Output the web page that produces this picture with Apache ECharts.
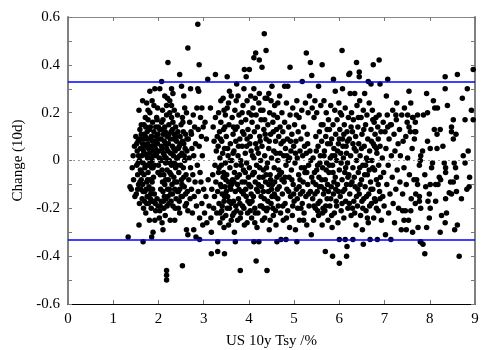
<!DOCTYPE html>
<html>
<head>
<meta charset="utf-8">
<script src="https://cdn.jsdelivr.net/npm/echarts@6/dist/echarts.min.js"></script>
<style>
  html, body { margin: 0; padding: 0; background: #fff; }
  #chart { width: 500px; height: 350px; }
</style>
</head>
<body>
<div id="chart"></div>
<script>
// axis ranges and the +/- band
const xRange = [0, 9]
const yRange = [-0.6, 0.6]
const bandLimit = 0.333

// points, grouped by yield band [yield %, change]
const band13to17 = [
  [1.33,-0.32],[1.37,-0.11],[1.40,-0.12],[1.42,-0.03],[1.44,0.02],[1.45,-0.08],[1.47,0.06],[1.48,-0.15],
  [1.50,0.10],[1.51,-0.14],[1.52,-0.02],[1.53,0.04],[1.54,-0.06],[1.55,0.08],[1.56,-0.10],[1.57,0.21],
  [1.57,-0.27],[1.58,0.00],[1.58,-0.18],[1.59,0.13],[1.60,-0.04],[1.60,0.05],[1.61,-0.12],[1.62,0.11],
  [1.62,-0.08],[1.63,0.02],[1.64,-0.16],[1.65,0.25],[1.65,0.07],[1.66,-0.34],[1.66,-0.01],[1.67,-0.20],
  [1.68,0.15],[1.68,-0.06],[1.69,0.03],[1.70,-0.13],[1.70,0.09],
  [1.52,0.07],[1.54,-0.12],[1.56,0.02],[1.61,0.09],[1.63,-0.05],[1.65,-0.10],[1.67,0.04],[1.69,-0.17],
  [1.55,-0.01],[1.58,0.09],[1.59,-0.09],[1.62,0.15],[1.64,0.05],[1.66,-0.13],[1.68,0.11]
]
const band17to22 = [
  [1.71,0.18],[1.72,-0.02],[1.72,-0.22],[1.73,0.06],[1.74,-0.09],[1.75,0.12],[1.75,-0.15],[1.76,0.01],
  [1.77,0.17],[1.77,0.21],[1.77,-0.05],[1.78,-0.18],[1.79,0.09],[1.79,-0.11],[1.80,0.03],[1.80,-0.25],
  [1.81,0.20],[1.81,0.29],[1.81,-0.01],[1.82,0.14],[1.82,-0.08],[1.83,-0.14],[1.84,0.06],[1.84,-0.20],
  [1.85,0.10],[1.85,-0.32],[1.85,-0.03],[1.86,0.00],[1.87,-0.12],[1.87,0.16],[1.88,0.04],[1.88,-0.30],
  [1.89,-0.07],[1.89,-0.17],[1.90,0.12],[1.90,0.23],[1.91,-0.02],[1.92,0.30],[1.92,0.08],[1.92,-0.25],
  [1.94,0.14],[1.94,-0.21],[1.95,0.02],[1.96,0.18],[1.97,0.17],[1.97,-0.16],[1.98,0.07],[1.99,-0.19],
  [1.99,0.11],[2.00,-0.02],[2.01,0.04],[2.02,-0.24],[2.03,0.30],[2.03,-0.21],[2.03,0.13],[2.04,-0.06],
  [2.05,0.00],[2.06,0.09],[2.06,-0.17],[2.07,0.33],[2.07,0.16],[2.08,-0.04],[2.08,-0.26],[2.09,0.05],
  [2.10,0.17],[2.10,-0.29],[2.10,-0.13],[2.11,0.11],[2.12,-0.06],[2.12,-0.20],[2.13,0.02],[2.14,0.27],
  [2.14,0.14],[2.14,-0.10],[2.15,-0.23],[2.16,0.07],[2.16,-0.01],[2.17,-0.16],[2.18,0.23],[2.18,0.19],
  [2.18,-0.46],[2.18,-0.48],[2.18,-0.50],[2.19,-0.04],[2.19,0.10],[2.20,-0.12],
  [1.71,0.10],[1.73,-0.12],[1.74,0.02],[1.76,-0.08],[1.78,0.05],[1.80,0.13],[1.82,-0.16],[1.83,0.01],
  [1.86,-0.09],[1.87,0.08],[1.89,0.02],[1.91,-0.14],[1.93,0.05],[1.95,0.10],[2.00,0.14],[2.02,0.01],
  [2.05,-0.12],[2.07,0.06],[2.09,-0.09],[2.11,0.03],[2.13,-0.15],[2.15,0.12],[2.17,0.01],[2.19,-0.19],
  [1.70,-0.03],[1.72,0.14],[1.74,-0.18],[1.76,0.07],[1.78,-0.02],[1.79,0.13],[1.81,-0.12],[1.84,0.10],
  [1.85,-0.17],[1.88,-0.03],[1.90,0.06],[1.93,-0.18],[1.96,0.03],[1.99,-0.05],[2.01,0.09],[2.04,-0.19],
  [2.06,0.13],[2.08,0.00],[2.11,-0.17],[2.13,0.08],[2.16,-0.08],[2.18,0.05],
  [1.74,0.24],[1.86,0.25],[1.98,0.22],[2.09,0.21]
]
const band22to265 = [
  [2.21,0.41],[2.21,0.04],[2.22,-0.08],[2.23,0.15],[2.23,-0.18],[2.24,0.00],[2.25,0.25],[2.25,0.20],
  [2.25,-0.05],[2.26,0.09],[2.26,-0.25],[2.27,-0.14],[2.28,0.12],[2.29,0.30],[2.29,0.23],[2.29,0.18],
  [2.29,-0.02],[2.30,-0.10],[2.31,0.06],[2.32,0.28],[2.32,0.16],[2.32,-0.19],[2.33,0.02],[2.34,-0.07],
  [2.35,0.11],[2.36,-0.25],[2.36,-0.12],[2.37,0.04],[2.38,0.14],[2.38,-0.03],[2.39,-0.16],[2.40,0.08],
  [2.41,-0.09],[2.42,0.01],[2.43,0.12],[2.44,-0.20],[2.45,-0.05],[2.46,0.06],[2.47,0.36],[2.47,-0.22],
  [2.47,-0.12],[2.48,0.10],[2.49,-0.02],[2.50,0.15],[2.51,0.31],[2.51,-0.08],[2.52,0.03],[2.53,0.18],
  [2.53,-0.44],[2.53,-0.15],[2.54,0.16],[2.55,-0.03],[2.56,0.07],[2.57,-0.11],[2.58,0.22],[2.58,0.00],
  [2.59,-0.19],[2.60,0.11],[2.61,-0.06],[2.62,0.20],[2.62,-0.18],[2.62,-0.29],[2.63,0.04],[2.64,-0.13],
  [2.65,0.47],[2.65,-0.21],[2.65,-0.31],
  [2.22,0.07],[2.24,-0.12],[2.27,0.03],[2.28,-0.06],[2.31,-0.14],[2.33,0.09],[2.35,-0.01],[2.37,-0.20],
  [2.40,0.01],[2.42,-0.13],[2.44,0.05],[2.46,-0.17],[2.49,0.07],[2.52,-0.10],[2.55,0.12],[2.57,0.02],
  [2.60,-0.14],[2.63,0.09],
  [2.21,-0.15],[2.23,0.11],[2.26,-0.01],[2.28,-0.17],[2.31,0.13],[2.34,0.05],[2.36,-0.09],[2.39,0.10],
  [2.41,-0.02],[2.44,-0.13],[2.47,0.02],[2.50,-0.15],[2.53,0.08],[2.56,-0.07],[2.59,0.05],
  [2.20,0.26],[2.35,0.21],[2.42,0.19],[2.56,0.27]
]
const band265to33 = [
  [2.66,0.09],[2.67,-0.08],[2.68,0.01],[2.69,0.16],[2.70,-0.16],[2.71,0.30],[2.71,-0.03],[2.72,0.12],
  [2.73,0.11],[2.73,-0.12],[2.74,0.05],[2.75,-0.22],[2.76,-0.06],[2.77,0.19],[2.78,-0.29],[2.78,0.02],
  [2.79,-0.15],[2.80,0.14],[2.81,-0.09],[2.82,0.07],[2.83,-0.32],[2.84,-0.19],[2.85,0.22],[2.86,-0.02],
  [2.87,0.30],[2.87,0.57],[2.88,0.13],[2.88,-0.13],[2.89,0.29],[2.90,0.40],[2.90,0.06],[2.91,-0.33],
  [2.91,-0.24],[2.92,-0.05],[2.93,0.18],[2.94,-0.09],[2.95,0.10],[2.96,0.22],[2.96,-0.18],[2.97,0.02],
  [2.98,-0.27],[2.99,0.14],[3.00,-0.12],[3.02,-0.22],[3.03,0.16],[3.05,-0.15],
  [3.06,0.09],[3.07,-0.26],[3.09,0.34],[3.10,-0.08],[3.12,-0.19],
  [3.15,0.22],[3.16,-0.24],[3.17,-0.30],[3.17,-0.39],[3.18,-0.12],[3.20,-0.06],[3.21,0.14],
  [3.22,-0.20],[3.23,0.08],[3.24,-0.15],[3.25,-0.02],[3.26,0.36],[3.26,0.18],[3.27,-0.09],[3.28,0.04],
  [3.29,-0.22],[3.30,0.10]
]
const band33to40 = [
  [3.31,-0.34],[3.31,-0.38],[3.31,-0.13],[3.32,0.06],[3.33,0.20],[3.33,-0.05],[3.34,-0.18],[3.35,0.12],
  [3.36,0.01],[3.36,-0.26],[3.37,-0.10],[3.38,0.16],[3.38,0.25],[3.39,-0.02],[3.40,-0.21],[3.40,0.08],
  [3.41,-0.14],[3.42,0.03],[3.43,0.26],[3.43,-0.07],[3.44,0.13],[3.45,-0.17],[3.45,-0.28],[3.46,-0.39],
  [3.46,0.05],[3.47,-0.11],[3.48,0.19],[3.48,-0.01],[3.49,-0.23],[3.50,0.10],[3.51,-0.06],[3.52,0.35],
  [3.52,0.22],[3.53,-0.15],[3.54,0.02],[3.55,-0.09],[3.56,0.15],[3.57,0.29],[3.57,-0.20],[3.58,-0.03],
  [3.59,0.07],[3.60,-0.12],[3.61,0.27],[3.61,-0.25],[3.62,0.00],[3.63,0.18],[3.64,-0.08],[3.65,0.11],
  [3.66,-0.17],[3.67,0.04],[3.68,-0.30],[3.68,-0.05],[3.69,0.21],[3.70,-0.34],[3.70,-0.13],[3.71,0.08],
  [3.72,0.25],[3.72,-0.02],[3.73,0.32],[3.73,-0.21],[3.74,0.14],[3.75,-0.10],[3.76,0.02],[3.77,-0.16],
  [3.78,0.19],[3.79,-0.06],[3.80,0.09],[3.81,-0.46],[3.81,-0.24],[3.82,0.00],[3.83,0.16],[3.84,-0.13],
  [3.85,0.06],[3.86,-0.19],[3.87,0.23],[3.88,-0.04],[3.89,0.30],[3.89,0.11],[3.90,0.38],[3.90,-0.27],
  [3.91,-0.09],[3.92,0.03],[3.93,0.17],[3.94,0.35],[3.94,-0.15],[3.95,-0.01],[3.96,0.09],[3.97,-0.22],
  [3.98,0.13],[3.99,-0.07],[4.00,0.20],
  [3.34,-0.03],[3.37,0.09],[3.41,-0.19],[3.44,-0.05],[3.47,0.14],[3.50,-0.13],[3.53,0.05],[3.56,-0.17],
  [3.59,0.00],[3.62,-0.10],[3.65,0.03],[3.67,-0.22],[3.70,0.13],[3.74,-0.07],[3.77,0.06],[3.80,-0.18],
  [3.83,-0.02],[3.86,0.12],[3.88,-0.14],[3.92,-0.05],[3.95,0.06],[3.98,-0.17],
  [3.36,-0.22],[3.39,-0.11],[3.42,-0.24],[3.46,-0.15],[3.49,-0.08],[3.52,-0.20],[3.55,-0.27],[3.58,-0.11],
  [3.61,-0.18],[3.64,-0.23],[3.67,-0.09],[3.71,-0.19],[3.75,-0.25],[3.78,-0.12],[3.82,-0.22],[3.85,-0.09],
  [3.89,-0.20],[3.93,-0.12],[3.96,-0.26],
  [3.45,0.21],[3.55,0.24],[3.66,0.14],[3.76,0.27],[3.85,0.20],[3.96,0.25]
]
const band40to47 = [
  [4.01,0.38],[4.01,-0.03],[4.02,-0.18],[4.03,0.10],[4.04,0.27],[4.04,-0.11],[4.05,0.04],[4.06,-0.24],
  [4.07,0.16],[4.08,-0.06],[4.09,0.22],[4.10,-0.15],[4.11,0.43],[4.11,0.30],[4.11,-0.34],[4.11,0.01],
  [4.12,0.12],[4.13,-0.20],[4.14,-0.09],[4.15,0.45],[4.15,0.07],[4.16,-0.42],[4.16,0.19],[4.17,-0.02],
  [4.18,-0.28],[4.19,0.14],[4.20,-0.13],[4.21,0.03],[4.22,-0.34],[4.22,0.24],[4.23,0.42],[4.23,0.28],
  [4.23,-0.07],[4.24,0.10],[4.25,-0.19],[4.26,0.00],[4.27,0.17],[4.28,-0.11],[4.29,0.39],[4.29,0.06],
  [4.30,-0.25],[4.31,0.21],[4.32,-0.04],[4.33,0.13],[4.34,0.53],[4.34,-0.16],[4.35,0.02],[4.36,0.26],
  [4.37,-0.09],[4.38,0.46],[4.38,0.09],[4.39,-0.21],[4.40,0.26],[4.40,-0.46],[4.41,-0.01],[4.42,0.15],
  [4.43,-0.13],[4.44,0.05],[4.45,-0.29],[4.46,0.20],[4.47,-0.06],[4.48,0.11],[4.49,0.25],[4.49,-0.18],
  [4.50,0.01],[4.51,0.31],[4.52,-0.10],[4.53,0.16],[4.54,-0.23],[4.55,0.04],[4.56,-0.03],[4.57,0.23],
  [4.58,-0.15],[4.59,0.08],[4.60,-0.27],[4.61,0.13],[4.62,-0.34],[4.62,-0.07],[4.63,0.18],[4.64,0.00],
  [4.65,-0.19],[4.66,0.10],[4.67,-0.11],[4.68,0.27],[4.69,0.03],[4.70,-0.22],
  [4.02,0.07],[4.05,-0.14],[4.08,0.02],[4.12,-0.05],[4.14,-0.22],[4.18,0.05],[4.21,-0.10],[4.25,0.08],
  [4.27,-0.15],[4.31,-0.07],[4.33,-0.20],[4.36,0.11],[4.39,-0.03],[4.42,-0.17],[4.45,0.08],[4.48,-0.08],
  [4.51,-0.15],[4.54,0.12],[4.57,-0.09],[4.60,0.03],[4.63,-0.12],[4.66,-0.04],[4.69,0.14],
  [4.00,-0.10],[4.03,-0.21],[4.07,-0.17],[4.10,-0.05],[4.13,-0.26],[4.17,-0.12],[4.20,-0.22],[4.24,-0.03],
  [4.28,-0.19],[4.32,-0.13],[4.35,-0.24],[4.38,-0.06],[4.41,-0.20],[4.44,-0.10],[4.47,-0.25],[4.50,-0.12],
  [4.53,-0.20],[4.56,-0.14],[4.59,-0.21],[4.64,-0.16],[4.68,-0.06],
  [4.06,0.19],[4.14,0.26],[4.26,0.21],[4.35,0.17],[4.44,0.28],[4.55,0.19],[4.64,0.24]
]
const band47to54 = [
  [4.71,-0.33],[4.71,0.07],[4.72,-0.05],[4.73,0.20],[4.74,-0.14],[4.75,0.12],[4.76,-0.25],[4.77,0.02],
  [4.78,-0.09],[4.79,0.31],[4.79,0.16],[4.80,-0.18],[4.81,0.05],[4.82,-0.33],[4.82,-0.02],[4.83,0.24],
  [4.84,-0.12],[4.85,0.09],[4.86,0.31],[4.86,-0.21],[4.87,0.00],[4.88,0.14],[4.89,-0.07],[4.90,-0.28],
  [4.91,0.39],[4.91,0.19],[4.92,-0.15],[4.93,0.04],[4.94,-0.04],[4.95,0.11],[4.96,-0.23],[4.97,0.22],
  [4.98,-0.10],[4.99,0.06],[5.00,-0.17],[5.01,0.15],[5.02,-0.01],[5.03,-0.29],[5.04,0.08],[5.05,-0.12],
  [5.06,-0.34],[5.06,0.25],[5.07,0.01],[5.08,-0.20],[5.09,0.12],[5.10,-0.06],[5.11,0.18],[5.12,-0.25],
  [5.13,0.04],[5.14,-0.14],[5.15,0.09],[5.16,-0.03],[5.17,0.21],[5.18,0.33],[5.18,-0.18],[5.19,0.02],
  [5.20,-0.09],[5.21,0.14],[5.22,-0.22],[5.23,0.06],[5.24,-0.05],[5.25,0.24],[5.26,-0.15],[5.27,0.45],
  [5.27,0.03],[5.28,-0.27],[5.29,0.11],[5.30,-0.10],[5.31,0.20],[5.32,-0.02],[5.33,-0.19],[5.34,0.27],
  [5.35,0.04],[5.36,0.41],[5.36,-0.13],[5.37,0.00],[5.38,-0.31],[5.39,0.355],[5.39,-0.07],[5.40,0.22],
  [4.73,-0.08],[4.76,0.08],[4.80,-0.07],[4.84,0.02],[4.88,-0.13],[4.92,0.08],[4.95,-0.08],[4.99,-0.14],
  [5.03,0.03],[5.07,-0.16],[5.11,-0.11],[5.15,-0.20],[5.19,-0.13],[5.23,-0.03],[5.28,-0.05],[5.32,-0.14],
  [4.75,-0.19],[4.83,-0.24],[4.90,0.01],[4.97,-0.19],[5.05,0.19],[5.13,-0.08],[5.21,-0.25],[5.30,0.07]
]
const band54to62 = [
  [5.41,-0.16],[5.42,0.01],[5.43,-0.25],[5.44,0.18],[5.45,-0.05],[5.46,0.25],[5.47,-0.20],[5.48,-0.10],
  [5.49,0.04],[5.50,0.20],[5.51,-0.13],[5.52,-0.02],[5.53,0.06],[5.54,0.31],[5.54,-0.23],[5.55,-0.07],
  [5.56,0.12],[5.57,-0.17],[5.58,0.02],[5.59,0.23],[5.60,-0.11],[5.61,0.08],[5.62,0.40],[5.62,-0.27],
  [5.63,-0.03],[5.64,0.15],[5.65,-0.14],[5.66,0.25],[5.67,0.04],[5.68,-0.21],[5.69,-0.38],[5.69,-0.08],
  [5.70,0.10],[5.71,0.20],[5.72,-0.01],[5.73,-0.16],[5.74,0.07],[5.75,-0.25],[5.76,0.17],[5.77,-0.05],
  [5.78,0.13],[5.79,-0.19],[5.80,0.01],[5.81,0.23],[5.82,-0.11],[5.83,0.09],[5.84,-0.28],[5.85,-0.40],
  [5.85,-0.02],[5.86,0.15],[5.87,0.34],[5.87,-0.14],[5.88,0.05],[5.89,-0.22],[5.90,0.21],[5.91,0.29],
  [5.91,-0.07],[5.92,0.11],[5.93,-0.17],[5.94,0.00],[5.95,0.17],[5.96,-0.10],[5.97,-0.26],[5.98,0.07],
  [5.99,0.24],[6.00,-0.43],[6.00,-0.33],[6.00,-0.04],[6.01,0.13],[6.02,-0.15],[6.03,0.03],[6.04,-0.21],
  [6.05,0.19],[6.06,0.46],[6.06,-0.08],[6.07,0.30],[6.07,0.09],[6.08,-0.13],[6.09,0.01],[6.10,-0.24],
  [6.11,0.15],[6.12,-0.05],[6.13,-0.33],[6.13,0.22],[6.14,-0.17],[6.15,0.06],[6.16,-0.40],[6.16,-0.10],
  [6.17,-0.36],[6.17,0.12],[6.18,-0.01],[6.19,-0.20],[6.20,0.18],
  [5.42,-0.09],[5.46,-0.14],[5.50,-0.04],[5.53,-0.18],[5.57,-0.01],[5.61,-0.08],[5.64,-0.20],[5.67,-0.12],
  [5.71,-0.04],[5.74,-0.10],[5.78,-0.02],[5.81,-0.16],[5.84,0.02],[5.88,-0.09],[5.92,-0.12],[5.96,0.04],
  [6.00,0.09],[6.04,-0.01],[6.08,0.06],[6.12,-0.12],[6.16,0.03],[6.19,-0.07],
  [5.44,-0.19],[5.48,0.10],[5.52,-0.21],[5.56,-0.11],[5.60,0.15],[5.63,-0.22],[5.66,0.02],[5.70,-0.19],
  [5.73,0.13],[5.76,-0.13],[5.80,0.07],[5.83,-0.23],[5.86,-0.05],[5.90,0.02],[5.94,-0.19],[5.98,-0.13],
  [6.02,0.20],[6.06,-0.18],[6.10,0.11],[6.14,-0.03],[6.18,0.08]
]
const band62to70 = [
  [6.21,0.36],[6.21,-0.06],[6.22,0.09],[6.23,0.365],[6.23,-0.14],[6.24,0.28],[6.25,0.02],[6.26,-0.23],
  [6.27,0.20],[6.28,-0.09],[6.29,0.12],[6.30,-0.33],[6.30,-0.03],[6.31,0.17],[6.32,-0.17],[6.33,0.05],
  [6.34,0.28],[6.35,-0.11],[6.36,0.10],[6.37,-0.27],[6.38,0.41],[6.38,0.00],[6.39,0.23],[6.40,-0.19],
  [6.41,0.14],[6.42,-0.05],[6.43,0.07],[6.44,0.37],[6.44,0.35],[6.44,-0.14],[6.45,0.25],[6.46,0.02],
  [6.47,-0.23],[6.48,0.18],[6.49,-0.08],[6.50,0.11],[6.51,-0.29],[6.52,-0.02],[6.53,-0.35],[6.53,0.21],
  [6.54,-0.16],[6.55,0.06],[6.56,0.28],[6.57,-0.11],[6.58,0.15],[6.59,-0.21],[6.60,0.01],[6.61,0.19],
  [6.62,-0.06],[6.63,0.09],[6.64,0.33],[6.64,-0.26],[6.65,-0.14],[6.66,0.24],[6.67,0.04],[6.68,-0.33],
  [6.69,-0.09],[6.70,0.32],[6.70,0.13],[6.71,-0.18],[6.72,0.00],[6.73,0.21],[6.74,-0.12],[6.75,0.40],
  [6.75,0.07],[6.76,-0.24],[6.77,0.16],[6.78,-0.04],[6.79,0.11],[6.80,-0.17],[6.81,0.18],[6.82,-0.08],
  [6.83,0.03],[6.84,-0.33],[6.85,0.14],[6.86,-0.21],[6.87,-0.02],[6.88,0.42],[6.88,0.19],[6.89,-0.13],
  [6.90,0.32],[6.90,0.06],[6.91,-0.07],[6.92,0.12],[6.93,-0.25],[6.95,0.01],[6.96,-0.15],[6.97,0.16],
  [6.98,-0.05],[6.99,-0.19],
  [6.25,-0.10],[6.29,-0.20],[6.33,-0.07],[6.37,0.04],[6.41,-0.12],[6.45,-0.03],[6.49,0.05],[6.52,-0.20],
  [6.56,-0.06],[6.60,-0.15],[6.63,0.00],[6.67,-0.19],[6.71,0.08],[6.74,-0.03],[6.78,-0.16],[6.82,0.05],
  [6.86,-0.10],
  [6.22,-0.18],[6.26,0.14],[6.30,0.07],[6.34,-0.22],[6.38,-0.15],[6.42,0.18],[6.46,-0.10],[6.50,-0.17],
  [6.54,0.13],[6.58,-0.02],[6.62,-0.24],[6.66,-0.04],[6.70,-0.12],[6.74,0.17],[6.78,0.06],[6.82,-0.20],
  [6.86,0.09],[6.90,-0.16]
]
const band70to77 = [
  [7.01,0.12],[7.02,-0.31],[7.03,0.05],[7.04,0.27],[7.05,-0.10],[7.06,0.19],[7.07,0.34],[7.08,-0.02],
  [7.09,-0.22],[7.10,0.09],[7.12,-0.14],[7.13,0.15],[7.14,-0.33],[7.15,0.02],[7.17,-0.07],[7.18,0.21],
  [7.19,-0.18],[7.21,0.11],[7.22,-0.26],[7.23,0.04],[7.25,-0.12],[7.26,0.17],[7.27,0.24],[7.28,-0.04],
  [7.30,0.07],[7.31,-0.20],[7.33,0.13],[7.34,-0.09],[7.35,0.02],[7.37,-0.29],[7.38,0.19],[7.40,-0.14],
  [7.41,0.08],[7.43,-0.03],[7.44,0.22],[7.46,-0.21],[7.47,0.10],[7.48,-0.10],[7.50,0.16],[7.51,0.01],
  [7.53,-0.25],[7.54,0.29],[7.55,-0.06],[7.57,0.12],[7.58,0.24],[7.59,-0.16],[7.61,0.05],[7.62,-0.30],
  [7.63,0.18],[7.65,-0.08],[7.66,0.09],[7.68,0.16],[7.68,-0.18],[7.69,0.12],[7.69,-0.14],
  [7.43,-0.25],[7.48,-0.29],[7.58,-0.21],[7.40,-0.21],[7.25,0.19],[7.51,0.19],[7.62,0.18],[7.54,0.14],
  [7.67,0.12],[7.07,0.14],[7.15,0.15]
]
const band77to90 = [
  [7.73,0.19],[7.86,0.19],[7.95,0.20],[7.93,0.28],[8.08,0.25],[8.11,0.22],[8.17,0.22],[8.34,0.35],
  [8.61,0.36],[8.96,0.38],[8.34,0.30],[8.83,0.30],[8.72,0.26],[8.39,0.23],[8.92,0.21],[8.52,0.17],
  [8.78,0.17],[8.96,0.17],[8.10,0.13],[8.16,0.11],[8.23,0.13],[8.48,0.14],[8.48,0.12],[8.58,0.11],
  [8.52,0.09],[8.29,0.06],[8.16,0.05],[8.01,0.05],[7.95,0.08],[7.84,0.04],[7.80,0.02],[7.79,0.00],
  [7.77,-0.02],[8.85,0.04],[8.74,0.02],[8.54,-0.01],[8.57,-0.03],[8.32,-0.01],[8.35,-0.03],[8.35,-0.05],
  [8.06,-0.01],[8.04,-0.03],[8.78,-0.01],[7.89,-0.06],[8.21,-0.07],[8.24,-0.08],[8.59,-0.07],[8.88,-0.07],
  [7.71,-0.08],[7.73,-0.10],[7.91,-0.11],[8.01,-0.10],[8.13,-0.10],[8.18,-0.10],[8.46,-0.09],[8.52,-0.09],
  [8.82,-0.12],[8.87,-0.11],[7.77,-0.15],[7.99,-0.14],[8.43,-0.135],[8.48,-0.14],[8.59,-0.13],[8.35,-0.16],
  [8.70,-0.16],[7.77,-0.17],[7.96,-0.17],[8.13,-0.17],[7.80,-0.20],[8.01,-0.20],[7.99,-0.24],[8.26,-0.23],
  [8.37,-0.22],[7.74,-0.28],[7.93,-0.28],[8.34,-0.26],[8.23,-0.30],[8.55,-0.29],[8.61,-0.27],[7.79,-0.34],
  [7.89,-0.39],[8.65,-0.40],[7.80,-0.34],[7.85,-0.35]
]

const points = [].concat(band13to17, band17to22, band22to265, band265to33, band33to40,
  band40to47, band47to54, band54to62, band62to70, band70to77, band77to90)

const serif = '"Liberation Serif", "DejaVu Serif", serif'

const chart = echarts.init(document.getElementById('chart'))
chart.setOption({
  animation: false,
  grid: { left: 68, right: 25, top: 17, bottom: 46, outerBoundsMode: 'none' },
  xAxis: [
    {
      type: 'value', min: xRange[0], max: xRange[1], interval: 1, position: 'bottom',
      name: 'US 10y Tsy /%', nameLocation: 'middle', nameGap: 30,
      nameTextStyle: { fontFamily: serif, fontSize: 15, color: '#000' },
      axisLine: { show: true, onZero: false, lineStyle: { color: '#000', width: 1 } },
      axisTick: { show: true, inside: true, length: 4, lineStyle: { color: '#777' } },
      axisLabel: { fontFamily: serif, fontSize: 15, color: '#000', margin: 8 },
      splitLine: { show: false }
    },
    {
      type: 'value', min: xRange[0], max: xRange[1], interval: 1, position: 'top',
      axisLine: { show: true, onZero: false, lineStyle: { color: '#888', width: 1 } },
      axisTick: { show: true, inside: true, length: 4, lineStyle: { color: '#777' } },
      axisLabel: { show: false },
      splitLine: { show: false }
    }
  ],
  yAxis: [
    {
      type: 'value', min: yRange[0], max: yRange[1], interval: 0.1, position: 'left',
      name: 'Change (10d)', nameLocation: 'middle', nameGap: 41,
      nameTextStyle: { fontFamily: serif, fontSize: 15, color: '#000' },
      axisLine: { show: true, onZero: false, lineStyle: { color: '#808080', width: 2 } },
      axisTick: { show: true, inside: true, length: 4, lineStyle: { color: '#777' } },
      axisLabel: {
        fontFamily: serif, fontSize: 15, color: '#000', margin: 8,
        formatter: function (v) {
          const k = Math.round(v * 10)
          if (k % 2) return ''
          return k === 0 ? '0' : (k / 10).toFixed(1)
        }
      },
      splitLine: { show: false }
    },
    {
      type: 'value', min: yRange[0], max: yRange[1], interval: 0.1, position: 'right',
      axisLine: { show: true, onZero: false, lineStyle: { color: '#808080', width: 2 } },
      axisTick: { show: true, inside: true, length: 4, lineStyle: { color: '#777' } },
      axisLabel: { show: false },
      splitLine: { show: false }
    }
  ],
  series: [
    {
      // dotted zero line
      type: 'scatter', data: [], z: 1, silent: true,
      markLine: {
        silent: true, symbol: 'none', label: { show: false },
        lineStyle: { color: '#999', width: 1, type: [2, 3] },
        data: [{ yAxis: 0 }]
      }
    },
    {
      type: 'scatter', data: points, z: 2,
      symbol: 'circle', symbolSize: 5.5,
      itemStyle: { color: '#000', opacity: 1 },
      markLine: {
        silent: true, symbol: 'none', label: { show: false },
        lineStyle: { color: '#0000ff', width: 1.5, type: 'solid' },
        data: [{ yAxis: bandLimit }, { yAxis: -bandLimit }]
      }
    }
  ]
})
</script>
</body>
</html>
